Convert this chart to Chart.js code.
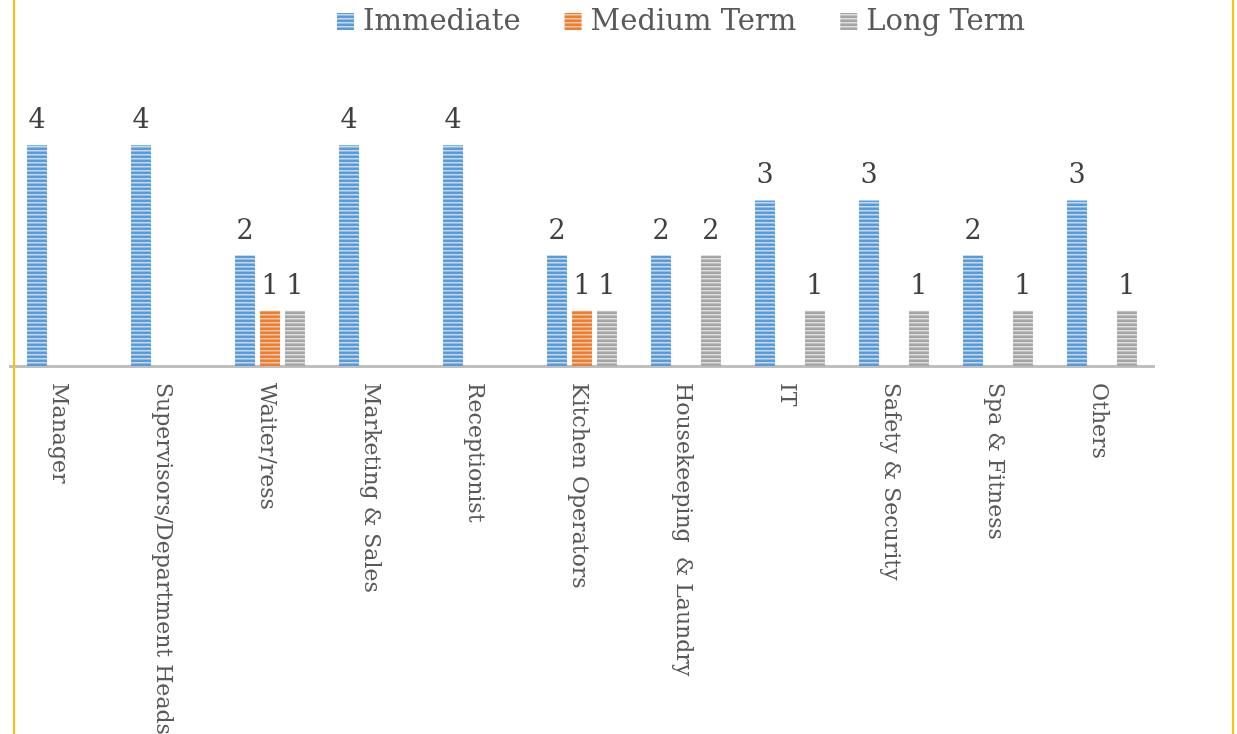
<!DOCTYPE html>
<html>
<head>
<meta charset="utf-8">
<script src="https://cdn.jsdelivr.net/npm/chart.js@4.4.1/dist/chart.umd.min.js"></script>
<style>
  html, body { margin: 0; padding: 0; background: #fff; }
  #wrap { position: relative; width: 1237px; height: 734px; }
</style>
</head>
<body>
<div id="wrap"><canvas id="chart"></canvas></div>
<script>
const categories = [
  'Manager', 'Supervisors/Department Heads', 'Waiter/ress', 'Marketing & Sales',
  'Receptionist', 'Kitchen Operators', 'Housekeeping  & Laundry', 'IT',
  'Safety & Security', 'Spa & Fitness', 'Others',
];
const seriesNames = ['Immediate', 'Medium Term', 'Long Term'];
const immediate = [4, 4, 2, 4, 4, 2, 2, 3, 3, 2, 3];
const mediumTerm = [0, 0, 1, 0, 0, 1, 0, 0, 0, 0, 0];
const longTerm = [0, 0, 1, 0, 0, 1, 2, 1, 1, 1, 1];

const serif = "'DejaVu Serif', 'Liberation Serif', serif";

// horizontal stripe fill like the office chart style
function stripes(dark, light, mid) {
  const c = document.createElement('canvas');
  c.width = 4;
  c.height = 4;
  const g = c.getContext('2d');
  g.fillStyle = dark;
  g.fillRect(0, 0, 4, 4);
  g.fillStyle = light;
  g.fillRect(0, 2, 4, 1);
  g.fillStyle = mid;
  g.fillRect(0, 3, 4, 1);
  return g.createPattern(c, 'repeat');
}

const fills = [
  stripes('#5b9bd5', '#c3daf1', '#8db9e4'),
  stripes('#ed7d31', '#f9c9a8', '#f2a06a'),
  stripes('#a5a5a5', '#dddddd', '#c0c0c0'),
];

const extras = {
  id: 'extras',
  afterDatasetsDraw(chart) {
    const { ctx } = chart;
    const x = chart.scales.x;

    // value labels above bars
    ctx.save();
    ctx.font = '27px ' + serif;
    ctx.fillStyle = '#404040';
    ctx.textAlign = 'center';
    ctx.textBaseline = 'alphabetic';
    chart.data.datasets.forEach((ds, di) => {
      chart.getDatasetMeta(di).data.forEach((bar, i) => {
        const v = ds.data[i];
        if (!v) return;
        ctx.fillText(String(v), bar.x, bar.y - 17);
      });
    });
    ctx.restore();

    // category labels, turned to read top to bottom
    ctx.save();
    ctx.font = '22px ' + serif;
    ctx.fillStyle = '#595959';
    ctx.textAlign = 'left';
    ctx.textBaseline = 'middle';
    categories.forEach((lab, i) => {
      ctx.save();
      ctx.translate(x.getPixelForValue(i) - 3, chart.chartArea.bottom + 17);
      ctx.rotate(Math.PI / 2);
      ctx.fillText(lab, 0, 0);
      ctx.restore();
    });
    ctx.restore();

    // legend
    ctx.save();
    ctx.font = '29px ' + serif;
    ctx.textBaseline = 'middle';
    ctx.textAlign = 'left';
    let tx = 363;
    seriesNames.forEach((name, i) => {
      ctx.fillStyle = fills[i];
      ctx.fillRect(tx - 26, 13, 17, 17);
      ctx.fillStyle = '#595959';
      ctx.fillText(name, tx, 22);
      tx += ctx.measureText(name).width + 70;
    });
    ctx.restore();

    // yellow frame edges
    ctx.save();
    ctx.strokeStyle = '#ffc000';
    ctx.lineWidth = 2;
    ctx.beginPath();
    ctx.moveTo(14, 0);
    ctx.lineTo(14, 734);
    ctx.moveTo(1233, 0);
    ctx.lineTo(1233, 734);
    ctx.stroke();
    ctx.restore();
  },
};

new Chart(document.getElementById('chart'), {
  type: 'bar',
  data: {
    labels: categories,
    datasets: [immediate, mediumTerm, longTerm].map((d, i) => ({
      label: seriesNames[i],
      data: d,
      backgroundColor: fills[i],
      borderWidth: 0,
      categoryPercentage: 0.72,
      barPercentage: 0.8,
    })),
  },
  options: {
    responsive: true,
    maintainAspectRatio: false,
    animation: false,
    layout: { padding: { left: 10, right: 83, top: 90, bottom: 360 } },
    plugins: {
      legend: { display: false },
      tooltip: { enabled: false },
    },
    scales: {
      x: {
        grid: { display: false },
        ticks: { display: false },
        border: { display: true, color: '#bfbfbf', width: 3 },
      },
      y: {
        display: false,
        min: 0,
        max: 5,
      },
    },
  },
  plugins: [extras],
});
</script>
</body>
</html>
